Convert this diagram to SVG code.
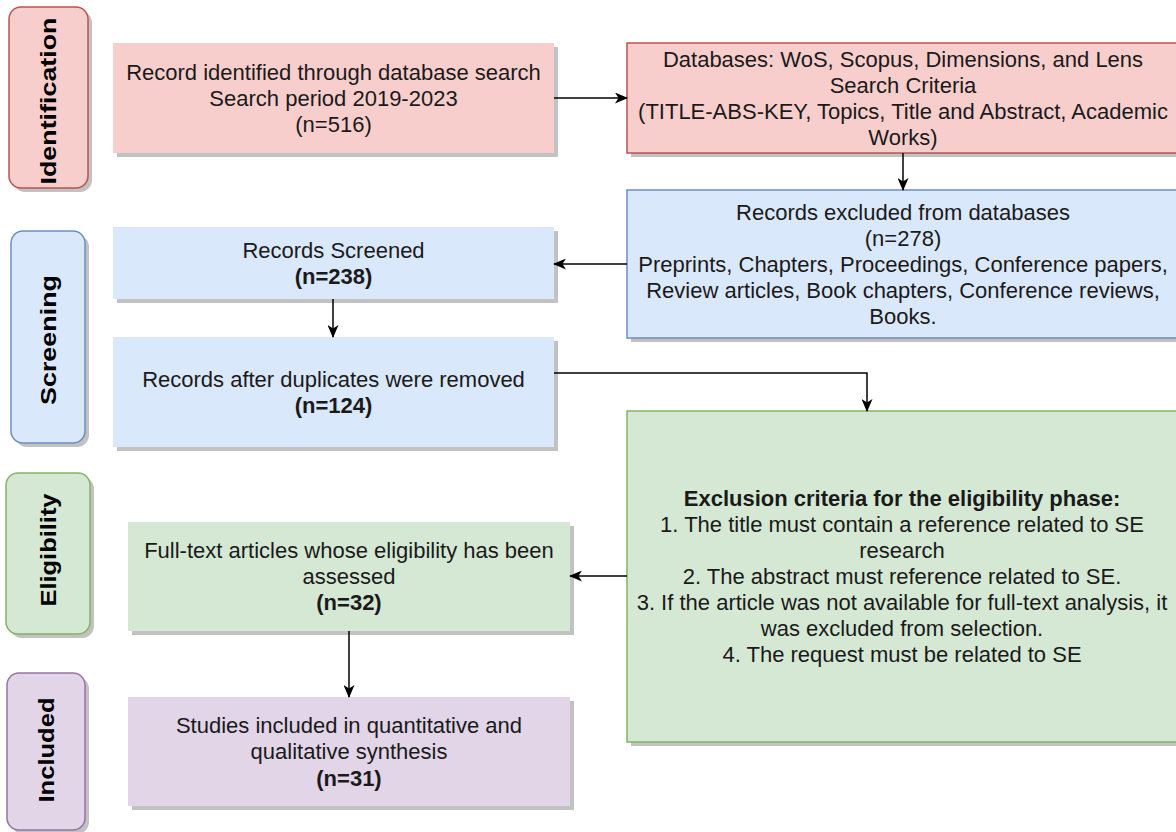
<svg xmlns="http://www.w3.org/2000/svg" width="1176" height="832" viewBox="0 0 1176 832">
<defs>
<marker id="arr" viewBox="0 0 13 11" refX="12" refY="5.5" markerWidth="13" markerHeight="11" markerUnits="userSpaceOnUse" orient="auto">
<path d="M0,0 L13,5.5 L0,11 L3.5,5.5 Z" fill="#000"/>
</marker>
</defs>
<style>
text{font-family:"Liberation Sans",Arial,sans-serif;font-size:22px;fill:#1a1a1a;text-anchor:middle}
.b{font-weight:bold}
.ph{font-weight:bold;font-size:22px;fill:#000}
.sh{fill:#c2c2c2}
.red{fill:#f8cecc}
.redS{fill:#f8cecc;stroke:#b85450;stroke-width:1.5}
.blue{fill:#dae8fc}
.blueS{fill:#dae8fc;stroke:#6c8ebf;stroke-width:1.5}
.green{fill:#d5e8d4}
.greenS{fill:#d5e8d4;stroke:#82b366;stroke-width:1.5}
.purp{fill:#e1d5e7}
.purpS{fill:#e1d5e7;stroke:#9673a6;stroke-width:1.5}
.c{fill:none;stroke:#000;stroke-width:1.5;marker-end:url(#arr)}
</style>
<rect width="1176" height="832" fill="#fff"/>

<g id="phase-identification">
<rect class="sh" x="13" y="11" width="79" height="181" rx="12"/>
<rect class="redS" x="9" y="7" width="79" height="181" rx="12"/>
<text class="ph" transform="translate(56,101) rotate(-90)" textLength="167" lengthAdjust="spacingAndGlyphs">Identification</text>
</g>
<g id="phase-screening">
<rect class="sh" x="15" y="235" width="74" height="212" rx="12"/>
<rect class="blueS" x="11" y="231" width="74" height="212" rx="12"/>
<text class="ph" transform="translate(56,340) rotate(-90)" textLength="130" lengthAdjust="spacingAndGlyphs">Screening</text>
</g>
<g id="phase-eligibility">
<rect class="sh" x="10" y="477" width="84" height="161" rx="12"/>
<rect class="greenS" x="6" y="473" width="84" height="161" rx="12"/>
<text class="ph" transform="translate(56,550) rotate(-90)" textLength="113" lengthAdjust="spacingAndGlyphs">Eligibility</text>
</g>
<g id="phase-included">
<rect class="sh" x="11" y="677" width="78" height="157" rx="12"/>
<rect class="purpS" x="7" y="673" width="78" height="157" rx="12"/>
<text class="ph" transform="translate(54,750) rotate(-90)" textLength="105" lengthAdjust="spacingAndGlyphs">Included</text>
</g>

<g id="identified">
<rect class="sh" x="117" y="47" width="441" height="110"/>
<rect class="red" x="113" y="43" width="441" height="110"/>
<text x="333.5" y="80">Record identified through database search</text>
<text x="333.5" y="106">Search period 2019-2023</text>
<text x="333.5" y="132">(n=516)</text>
</g>

<g id="databases">
<rect class="sh" x="631" y="47" width="552" height="110"/>
<rect class="redS" x="627" y="43" width="552" height="110"/>
<text x="903" y="67">Databases: WoS, Scopus, Dimensions, and Lens</text>
<text x="903" y="93">Search Criteria</text>
<text x="903" y="119">(TITLE-ABS-KEY, Topics, Title and Abstract, Academic</text>
<text x="903" y="145">Works)</text>
</g>

<g id="excluded-db">
<rect class="sh" x="631" y="194" width="552" height="148"/>
<rect class="blueS" x="627" y="190" width="552" height="148"/>
<text x="903" y="220">Records excluded from databases</text>
<text x="903" y="246">(n=278)</text>
<text x="903" y="272">Preprints, Chapters, Proceedings, Conference papers,</text>
<text x="903" y="298">Review articles, Book chapters, Conference reviews,</text>
<text x="903" y="324">Books.</text>
</g>

<g id="screened">
<rect class="sh" x="117" y="231" width="441" height="72"/>
<rect class="blue" x="113" y="227" width="441" height="72"/>
<text x="333.5" y="258">Records Screened</text>
<text class="b" x="333.5" y="284">(n=238)</text>
</g>

<g id="after-duplicates">
<rect class="sh" x="117" y="341" width="441" height="110"/>
<rect class="blue" x="113" y="337" width="441" height="110"/>
<text x="333.5" y="387">Records after duplicates were removed</text>
<text class="b" x="333.5" y="413">(n=124)</text>
</g>

<g id="exclusion-criteria">
<rect class="sh" x="631" y="415" width="552" height="331"/>
<rect class="greenS" x="627" y="411" width="552" height="331"/>
<text class="b" x="902" y="506">Exclusion criteria for the eligibility phase:</text>
<text x="902" y="532">1. The title must contain a reference related to SE</text>
<text x="902" y="558">research</text>
<text x="902" y="584">2. The abstract must reference related to SE.</text>
<text x="902" y="610">3. If the article was not available for full-text analysis, it</text>
<text x="902" y="636">was excluded from selection.</text>
<text x="902" y="662">4. The request must be related to SE</text>
</g>

<g id="full-text">
<rect class="sh" x="132" y="526" width="442" height="109"/>
<rect class="green" x="128" y="522" width="442" height="109"/>
<text x="349" y="558">Full-text articles whose eligibility has been</text>
<text x="349" y="584">assessed</text>
<text class="b" x="349" y="610">(n=32)</text>
</g>

<g id="included-studies">
<rect class="sh" x="132" y="701" width="442" height="109"/>
<rect class="purp" x="128" y="697" width="442" height="109"/>
<text x="349" y="733">Studies included in quantitative and</text>
<text x="349" y="759">qualitative synthesis</text>
<text class="b" x="349" y="786">(n=31)</text>
</g>

<g id="connectors">
<path class="c" d="M554,98 L627,98"/>
<path class="c" d="M903,153 L903,190"/>
<path class="c" d="M627,264 L554,264"/>
<path class="c" d="M333,299 L333,337"/>
<path class="c" d="M554,373 L867,373 L867,411"/>
<path class="c" d="M627,576 L570,576"/>
<path class="c" d="M349,631 L349,697"/>
</g>
</svg>
